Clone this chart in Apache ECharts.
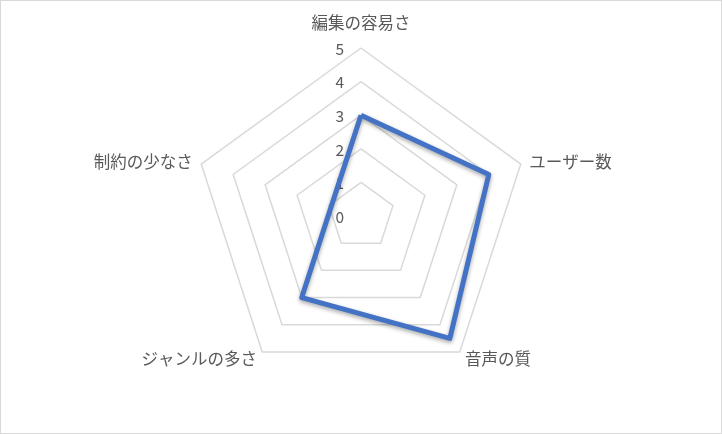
<!DOCTYPE html>
<html><head><meta charset="utf-8">
<script src="https://cdn.jsdelivr.net/npm/echarts@6/dist/echarts.min.js"></script>
<style>html,body{margin:0;padding:0;background:#fff}#c{width:720px;height:432px;border:1px solid #d9d9d9;background:#fff}</style>
</head><body><div id="c"></div>
<script>
const categories = ['編集の容易さ', '制約の少なさ', 'ジャンルの多さ', '音声の質', 'ユーザー数'];
const values = [3, 0.93, 3, 4.5, 4];
const tickLabels = [0, 1, 2, 3, 4, 5];
const maxValue = 5;

const chart = echarts.init(document.getElementById('c'));
const font = '"Noto Sans CJK JP", "Noto Sans", sans-serif';
const nameStyle = { color: '#595959', fontSize: 16.5, fontFamily: font };
chart.setOption({
  animation: false,
  radar: {
    center: [360, 215],
    radius: 168,
    startAngle: 90,
    splitNumber: 5,
    shape: 'polygon',
    nameGap: 9,
    axisName: {
      color: '#595959', fontSize: 16.5, fontFamily: font,
      formatter: function (name) {
        const i = categories.indexOf(name);
        const key = i === 0 ? 't' : (i === 2 || i === 3 ? 'b' : 's');
        return '{' + key + '|' + name + '}';
      },
      rich: {
        t: Object.assign({ padding: [0, 0, 8, 0] }, nameStyle),
        b: Object.assign({ lineHeight: 10 }, nameStyle),
        s: Object.assign({}, nameStyle)
      }
    },
    axisLine: { show: false },
    axisTick: { show: false },
    axisLabel: { show: false },
    splitArea: { show: false },
    splitLine: { lineStyle: { color: '#d9d9d9', width: 1.5 } },
    indicator: categories.map(n => ({ name: n, min: 0, max: maxValue }))
  },
  grid: { left: 360, top: 48, width: 1, height: 168 },
  xAxis: { type: 'value', show: false },
  yAxis: {
    type: 'value', min: tickLabels[0], max: tickLabels[tickLabels.length - 1], interval: 1,
    axisLine: { show: false }, axisTick: { show: false }, splitLine: { show: false },
    axisLabel: { color: '#595959', fontSize: 15.5, fontFamily: font, margin: 17 }
  },
  series: [{
    type: 'radar',
    symbol: 'none',
    lineStyle: { color: '#4472C4', width: 5, shadowColor: 'rgba(0,0,0,0.35)', shadowBlur: 4, shadowOffsetY: 2 },
    data: [{ value: values }]
  }]
});
</script></body></html>
